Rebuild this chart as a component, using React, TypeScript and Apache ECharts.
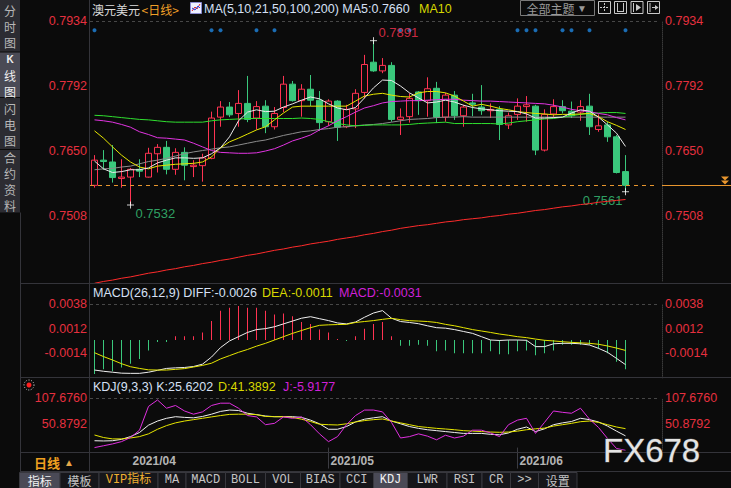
import React, { useEffect, useRef } from "react";
import * as echarts from "echarts";

// ---------------- data ----------------
const dates = [
  "2021/03/26","2021/03/29","2021/03/30","2021/03/31","2021/04/01","2021/04/02",
  "2021/04/05","2021/04/06","2021/04/07","2021/04/08","2021/04/09",
  "2021/04/12","2021/04/13","2021/04/14","2021/04/15","2021/04/16",
  "2021/04/19","2021/04/20","2021/04/21","2021/04/22","2021/04/23",
  "2021/04/26","2021/04/27","2021/04/28","2021/04/29","2021/04/30",
  "2021/05/03","2021/05/04","2021/05/05","2021/05/06","2021/05/07",
  "2021/05/10","2021/05/11","2021/05/12","2021/05/13","2021/05/14",
  "2021/05/17","2021/05/18","2021/05/19","2021/05/20","2021/05/21",
  "2021/05/24","2021/05/25","2021/05/26","2021/05/27","2021/05/28",
  "2021/05/31","2021/06/01","2021/06/02","2021/06/03","2021/06/04",
  "2021/06/07","2021/06/08","2021/06/09","2021/06/10","2021/06/11",
  "2021/06/14","2021/06/15","2021/06/16","2021/06/17",
];
const padCategories = ["pad-1", "pad-2", "pad-3"];

const openP = [
  0.7575,0.7630,0.7626,0.7590,0.7593,0.7610,0.7593,0.7644,0.7658,0.7610,
  0.7647,0.7616,0.7618,0.7634,0.7724,0.7746,0.7732,0.7754,0.7722,0.7748,
  0.7703,0.7745,0.7796,0.7760,0.7785,0.7761,0.7714,0.7759,0.7703,0.7742,
  0.7778,0.7844,0.7825,0.7837,0.7719,0.7725,0.7779,0.7760,0.7787,0.7724,
  0.7772,0.7727,0.7755,0.7746,0.7738,0.7741,0.7707,0.7730,0.7747,0.7748,
  0.7652,0.7731,0.7747,0.7737,0.7735,0.7748,0.7697,0.7707,0.7681,0.7605,
];
const closeP = [
  0.7630,0.7627,0.7592,0.7593,0.7610,0.7606,0.7645,0.7658,0.7610,0.7647,
  0.7619,0.7619,0.7635,0.7722,0.7746,0.7729,0.7754,0.7719,0.7747,0.7703,
  0.7732,0.7796,0.7760,0.7785,0.7761,0.7712,0.7759,0.7702,0.7741,0.7776,
  0.7839,0.7825,0.7837,0.7719,0.7724,0.7765,0.7760,0.7786,0.7724,0.7772,
  0.7727,0.7746,0.7752,0.7738,0.7741,0.7708,0.7727,0.7748,0.7751,0.7652,
  0.7730,0.7747,0.7738,0.7727,0.7747,0.7703,0.7705,0.7681,0.7603,0.7575,
];
const lowP = [
  0.7570,0.7609,0.7581,0.7570,0.7532,0.7593,0.7592,0.7603,0.7599,0.7598,
  0.7586,0.7593,0.7583,0.7632,0.7703,0.7724,0.7703,0.7713,0.7697,0.7689,
  0.7697,0.7735,0.7758,0.7725,0.7748,0.7694,0.7705,0.7672,0.7700,0.7700,
  0.7765,0.7823,0.7820,0.7714,0.7685,0.7712,0.7729,0.7725,0.7711,0.7714,
  0.7718,0.7703,0.7726,0.7729,0.7722,0.7674,0.7698,0.7718,0.7714,0.7641,
  0.7649,0.7722,0.7732,0.7722,0.7716,0.7685,0.7692,0.7670,0.7601,0.7561,
];
const highP = [
  0.7641,0.7652,0.7663,0.7632,0.7613,0.7632,0.7657,0.7665,0.7672,0.7656,
  0.7658,0.7630,0.7644,0.7736,0.7759,0.7757,0.7783,0.7814,0.7759,0.7761,
  0.7746,0.7814,0.7803,0.7796,0.7816,0.7781,0.7763,0.7761,0.7751,0.7785,
  0.7860,0.7891,0.7853,0.7844,0.7743,0.7776,0.7781,0.7811,0.7801,0.7777,
  0.7781,0.7751,0.7775,0.7794,0.7754,0.7748,0.7734,0.7765,0.7770,0.7751,
  0.7741,0.7763,0.7761,0.7758,0.7761,0.7775,0.7730,0.7714,0.7685,0.7641,
];

const ma5 = [
  0.7628,0.7611,0.7603,0.7605,0.7609,0.7609,0.7613,0.7624,0.7630,0.7635,
  0.7635,0.7634,0.7635,0.7644,0.7657,0.7681,0.7716,0.7735,0.7740,0.7736,
  0.7737,0.7746,0.7753,0.7761,0.7768,0.7764,0.7753,0.7744,0.7740,0.7745,
  0.7766,0.7788,0.7805,0.7804,0.7792,0.7777,0.7766,0.7755,0.7757,0.7761,
  0.7757,0.7750,0.7745,0.7742,0.7740,0.7738,0.7737,0.7736,0.7731,0.7722,
  0.7722,0.7723,0.7724,0.7733,0.7740,0.7737,0.7724,0.7707,0.7689,0.7660,
];
const ma10 = [
  0.7694,0.7678,0.7659,0.7641,0.7626,0.7615,0.7611,0.7617,0.7619,0.7621,
  0.7622,0.7623,0.7626,0.7637,0.7657,0.7670,0.7678,0.7687,0.7696,0.7703,
  0.7718,0.7733,0.7746,0.7748,0.7748,0.7748,0.7748,0.7748,0.7748,0.7759,
  0.7770,0.7774,0.7776,0.7772,0.7769,0.7768,0.7777,0.7780,0.7780,0.7777,
  0.7770,0.7759,0.7748,0.7752,0.7748,0.7743,0.7740,0.7736,0.7734,0.7732,
  0.7731,0.7729,0.7730,0.7730,0.7731,0.7732,0.7725,0.7714,0.7706,0.7697,
];
const ma21 = [
  0.7718,0.7716,0.7713,0.7708,0.7702,0.7692,0.7686,0.7679,0.7678,0.7676,
  0.7674,0.7667,0.7659,0.7651,0.7647,0.7646,0.7645,0.7645,0.7646,0.7650,
  0.7655,0.7663,0.7672,0.7678,0.7685,0.7696,0.7705,0.7716,0.7725,0.7735,
  0.7744,0.7749,0.7755,0.7758,0.7759,0.7760,0.7760,0.7761,0.7762,0.7763,
  0.7763,0.7761,0.7760,0.7759,0.7759,0.7758,0.7757,0.7756,0.7755,0.7754,
  0.7753,0.7750,0.7746,0.7741,0.7738,0.7736,0.7732,0.7729,0.7723,0.7718,
];
const ma50 = [
  0.7728,0.7727,0.7725,0.7723,0.7721,0.7719,0.7718,0.7716,0.7714,0.7713,
  0.7713,0.7713,0.7713,0.7716,0.7718,0.7719,0.7720,0.7721,0.7721,0.7721,
  0.7721,0.7721,0.7721,0.7722,0.7721,0.7719,0.7714,0.7710,0.7707,0.7705,
  0.7706,0.7707,0.7707,0.7707,0.7707,0.7708,0.7710,0.7711,0.7712,0.7713,
  0.7710,0.7710,0.7710,0.7710,0.7710,0.7709,0.7711,0.7714,0.7716,0.7718,
  0.7720,0.7721,0.7724,0.7727,0.7730,0.7732,0.7733,0.7734,0.7734,0.7732,
];
const ma100 = [
  0.7609,0.7611,0.7612,0.7615,0.7617,0.7622,0.7627,0.7630,0.7634,0.7639,
  0.7644,0.7648,0.7651,0.7654,0.7657,0.7659,0.7663,0.7667,0.7671,0.7674,
  0.7679,0.7684,0.7688,0.7692,0.7694,0.7697,0.7699,0.7702,0.7703,0.7705,
  0.7707,0.7708,0.7710,0.7713,0.7716,0.7719,0.7720,0.7721,0.7723,0.7724,
  0.7724,0.7725,0.7724,0.7724,0.7724,0.7724,0.7724,0.7724,0.7724,0.7724,
  0.7724,0.7724,0.7724,0.7724,0.7724,0.7724,0.7724,0.7724,0.7724,0.7724,
];
const ma200 = [
  0.7361,0.7365,0.7368,0.7372,0.7375,0.7379,0.7383,0.7386,0.7390,0.7393,
  0.7397,0.7400,0.7404,0.7407,0.7411,0.7414,0.7418,0.7422,0.7425,0.7429,
  0.7433,0.7436,0.7440,0.7443,0.7447,0.7450,0.7453,0.7457,0.7460,0.7463,
  0.7467,0.7470,0.7474,0.7477,0.7481,0.7484,0.7487,0.7489,0.7492,0.7495,
  0.7497,0.7500,0.7502,0.7504,0.7507,0.7509,0.7512,0.7514,0.7517,0.7520,
  0.7522,0.7525,0.7528,0.7530,0.7533,0.7535,0.7538,0.7540,0.7542,0.7544,
];

const macdDiff = [
  -0.00317,-0.00330,-0.00340,-0.00350,-0.00352,-0.00352,-0.00340,-0.00320,-0.00300,-0.00294,
  -0.00290,-0.00280,-0.00255,-0.00180,-0.00080,-0.00010,0.00035,0.00080,0.00110,0.00120,
  0.00140,0.00170,0.00200,0.00230,0.00246,0.00225,0.00205,0.00180,0.00170,0.00190,
  0.00240,0.00285,0.00310,0.00230,0.00195,0.00185,0.00172,0.00150,0.00130,0.00125,
  0.00110,0.00090,0.00070,0.00035,0.00000,-0.00005,0.00000,0.00000,-0.00003,-0.00070,
  -0.00070,-0.00040,-0.00035,-0.00035,-0.00040,-0.00053,-0.00088,-0.00130,-0.00194,-0.0026,
];
const macdDea = [
  -0.00134,-0.00175,-0.00211,-0.00250,-0.00282,-0.00300,-0.00315,-0.00317,-0.00317,-0.00310,
  -0.00302,-0.00285,-0.00268,-0.00245,-0.00200,-0.00165,-0.00130,-0.00100,-0.00065,-0.00035,
  0.00000,0.00035,0.00070,0.00100,0.00130,0.00155,0.00160,0.00163,0.00165,0.00185,
  0.00195,0.00205,0.00218,0.00229,0.00215,0.00204,0.00200,0.00195,0.00185,0.00165,
  0.00150,0.00130,0.00110,0.00095,0.00080,0.00063,0.00050,0.00035,0.00025,0.00010,
  -0.00003,-0.00010,-0.00018,-0.00025,-0.00030,-0.00035,-0.00045,-0.00063,-0.00085,-0.0011,
];
const macdHist = [
  -0.0036,-0.0031,-0.0033,-0.0029,-0.0025,-0.0020,-0.0011,-0.0002,-0.0002,0.0004,
  0.0004,0.0004,0.0008,0.0020,0.0031,0.0034,0.0036,0.0034,0.0034,0.0031,
  0.0027,0.0028,0.0025,0.0019,0.0017,0.0011,0.0008,0.0001,-0.0001,0.0004,
  0.0012,0.0017,0.0019,0.0004,-0.0006,-0.0006,-0.0005,-0.0006,-0.0012,-0.0011,
  -0.0014,-0.0014,-0.0014,-0.0014,-0.0012,-0.0015,-0.0015,-0.0012,-0.0011,-0.0016,
  -0.0014,-0.0011,-0.0005,-0.0005,-0.0005,-0.0005,-0.0009,-0.0014,-0.0023,-0.0031,
];

const kdjK = [
  15,14.5,15,18,24,33,49,58,64,67.5,
  66,65,68,73,79,82,81,75,72,69,
  67.5,67.5,67.5,66,60,52,40,40,46,56,
  62,65,67.5,58,52,46,42,39,37,35,
  33,31,31,31,29,28,32,40,45,35,
  41,50,54,57,64,61,56,47,36,25.6202,
];
const kdjD = [
  27.5,22,19,19,21,24,30,40,48,54,
  58,61,64,67,70,72.5,73,73,72,68,
  67.5,67.5,66,62,57,51,50,49.4,52,56,
  59,61,62.5,58,54,50,46,44,42,40.6,
  39,37,36,35,34,33.4,34,36,39,41,
  42.5,47,50,53,56.6,58,55,50,45,41.3892,
];
const kdjJ = [
  0,4,8,13,22,38,90,104,86,92,
  80,73,78,92,97,97,86,70,67,50,
  53,67,64,67,50,30,13,24,50,70,
  82,82,78,55,21,24,30,25,17,27,
  21,25,38,38,32,24,50,60,64,31,
  55,80,77,75,86,62,44,20,-2,-5.9177,
];

const signalDays = [0, 13, 14, 18, 20, 34, 35, 47, 48, 49, 52, 53, 55, 59];
const signalLevel = 0.7914;
const extremes = [
  { idx: 31, price: 0.7891, kind: "high" },
  { idx: 4, price: 0.7532, kind: "low" },
  { idx: 59, price: 0.7561, kind: "low" },
];

// axis tick values
const priceTicks = { min: 0.7366, max: 0.7934, step: 0.0142 };
const macdTicks = { min: -0.0040, max: 0.0038, step: 0.0026 };
const kdjTicks = { min: -5.9176, max: 107.676, step: 56.7968 };

const tabLabels = ["指标","模板","VIP指标","MA","MACD","BOLL","VOL","BIAS","CCI","KDJ","LWR","RSI","CR",">>","设置"];

// ---------------- styling ----------------
const BG = "#0b0b0b";
const RED = "#ff3352";
const GREEN = "#3ac87c";
const AXIS_RED = "#e6303f";
const LINE = "#34343a";
const LAT = '"Liberation Sans", "DejaVu Sans", sans-serif';
const CJK = '"Noto Sans CJK SC", sans-serif';
const MONO = '"Liberation Mono", "Noto Sans CJK SC", monospace';

const GRID_LEFT = 90;
const GRID_W = 567;

function yPair(gridIndex: number, t: any) {
  const base: any = {
    type: "value",
    gridIndex,
    min: t.min,
    max: t.max,
    interval: t.step,
    splitLine: { show: false },
    axisTick: { show: false },
    axisLine: { show: false },
    axisLabel: {
      color: AXIS_RED,
      fontFamily: "Liberation Sans",
      fontSize: 12.5,
      margin: 3,
      showMinLabel: false,
      formatter: (v: number) => v.toFixed(4),
    },
  };
  return [
    { ...base, position: "left" },
    {
      ...base,
      position: "right",
      offset: 5,
      axisLine: { show: true, lineStyle: { color: "#3a3a3a", type: "dotted" } },
    },
  ];
}

const refLine = (value: number, color: string, dash: number[]) => ({
  silent: true,
  symbol: "none",
  precision: 6,
  label: { show: false },
  data: [{ yAxis: value, lineStyle: { color, type: dash, width: 1 } }],
});

function buildOption() {
  const cats = [...dates, ...padCategories];
  const monthStarts: number[] = [];
  dates.forEach((d, i) => {
    if (i > 0 && d.slice(5, 7) !== dates[i - 1].slice(5, 7)) monthStarts.push(i);
  });
  const tickIdx = monthStarts.slice(1);

  const xAxes = [0, 1, 2].map((g) => ({
    type: "category",
    gridIndex: g,
    data: cats,
    boundaryGap: true,
    axisLine: { show: false },
    axisTick: { show: false },
    axisLabel: { show: false },
    splitLine: { show: false },
  })) as any[];
  xAxes[2] = {
    ...xAxes[2],
    axisTick: {
      show: true,
      alignWithLabel: true,
      interval: (i: number) => tickIdx.includes(i),
      length: 21,
      lineStyle: { color: "#3c3c42" },
    },
    axisLabel: {
      show: true,
      interval: (i: number) => monthStarts.includes(i),
      formatter: (v: string) => v.slice(0, 7),
      color: "#b4b4b4",
      fontFamily: "Liberation Sans",
      fontWeight: "bold",
      fontSize: 12,
      align: "left",
      margin: 5,
      padding: [0, 0, 0, 2],
    },
  };

  const maDefs: [number[], string][] = [
    [ma200, "#ff2b2b"],
    [ma100, "#8c8c8c"],
    [ma50, "#2fe02f"],
    [ma21, "#e234e2"],
    [ma10, "#e6e600"],
    [ma5, "#eaeaea"],
  ];

  const series: any[] = [
    // reference lines of the price panel (top dashed line and current price)
    {
      type: "line",
      xAxisIndex: 0,
      yAxisIndex: 0,
      data: [],
      symbol: "none",
      silent: true,
      markLine: {
        silent: true,
        symbol: "none",
        precision: 6,
        label: { show: false },
        data: [
          { yAxis: priceTicks.max, lineStyle: { color: "#474747", type: [3, 3], width: 1 } },
          { yAxis: closeP[closeP.length - 1], lineStyle: { color: "#e8962e", type: [4, 4], width: 1 } },
        ],
      },
    },
    {
      type: "candlestick",
      xAxisIndex: 0,
      yAxisIndex: 0,
      barWidth: 7,
      data: dates.map((_, i) => [openP[i], closeP[i], lowP[i], highP[i]]),
      itemStyle: { color: BG, color0: GREEN, borderColor: RED, borderColor0: GREEN, borderWidth: 1 },
    },
    ...maDefs.map(([d, c]) => ({
      type: "line",
      xAxisIndex: 0,
      yAxisIndex: 0,
      data: d,
      symbol: "none",
      silent: true,
      clip: false,
      lineStyle: { color: c, width: 1 },
    })),
    {
      type: "scatter",
      xAxisIndex: 0,
      yAxisIndex: 0,
      data: signalDays.map((i) => [i, signalLevel]),
      symbolSize: 4,
      itemStyle: { color: "#1f86e0" },
      silent: true,
    },
    {
      type: "scatter",
      xAxisIndex: 0,
      yAxisIndex: 0,
      symbol: "path://M0,5L10,5M5,0L5,10",
      symbolSize: 7,
      silent: true,
      itemStyle: { color: "none", borderColor: "#ffffff", borderWidth: 1 },
      data: extremes.map((e) => {
        const right = e.idx > 50;
        return {
          value: [e.idx, e.price],
          label: {
            show: true,
            position: "inside",
            formatter: e.price.toFixed(4),
            color: e.kind === "high" ? RED : GREEN,
            fontFamily: "Liberation Sans",
            fontSize: 13,
            align: right ? "right" : "left",
            verticalAlign: "middle",
            offset: e.kind === "high" ? [5, -8] : right ? [-3, 9] : [5, 8],
          },
        };
      }),
    },
    {
      type: "bar",
      xAxisIndex: 1,
      yAxisIndex: 2,
      barWidth: 1,
      silent: true,
      data: macdHist.map((v) => ({ value: v, itemStyle: { color: v >= 0 ? RED : GREEN } })),
    },
    {
      type: "line", xAxisIndex: 1, yAxisIndex: 2, data: macdDiff, symbol: "none", silent: true,
      lineStyle: { color: "#f0f0f0", width: 1 },
      markLine: refLine(macdTicks.max, "#474747", [3, 3]),
    },
    { type: "line", xAxisIndex: 1, yAxisIndex: 2, data: macdDea, symbol: "none", silent: true, lineStyle: { color: "#e6e600", width: 1 } },
    {
      type: "line", xAxisIndex: 2, yAxisIndex: 4, data: kdjK, symbol: "none", silent: true,
      lineStyle: { color: "#f0f0f0", width: 1 },
      markLine: refLine(kdjTicks.max, "#474747", [3, 3]),
    },
    { type: "line", xAxisIndex: 2, yAxisIndex: 4, data: kdjD, symbol: "none", silent: true, lineStyle: { color: "#e6e600", width: 1 } },
    { type: "line", xAxisIndex: 2, yAxisIndex: 4, data: kdjJ, symbol: "none", silent: true, lineStyle: { color: "#e030e0", width: 1 } },
  ];

  return {
    backgroundColor: BG,
    animation: false,
    grid: [
      { left: GRID_LEFT, top: 21, width: GRID_W, height: 260 },
      { left: GRID_LEFT, top: 304, width: GRID_W, height: 73.9 },
      { left: GRID_LEFT, top: 398.3, width: GRID_W, height: 52 },
    ],
    xAxis: xAxes,
    yAxis: [...yPair(0, priceTicks), ...yPair(1, macdTicks), ...yPair(2, kdjTicks)],
    series,
  };
}

// ---------------- chrome (graphic) ----------------
const txt = (x: number, y: number, text: string, fill: string, font: string, align = "left", extra: any = {}) => ({
  type: "text",
  x,
  y,
  z: 100,
  silent: true,
  style: { text, fill, font, align, textAlign: align, verticalAlign: "middle", textVerticalAlign: "middle", ...extra },
});
const rect = (x: number, y: number, w: number, h: number, fill: string, stroke?: string) => ({
  type: "rect",
  z: 90,
  silent: true,
  shape: { x, y, width: w, height: h },
  style: { fill, stroke: stroke || null, lineWidth: 1 },
});
const seg = (x1: number, y1: number, x2: number, y2: number, stroke: string, dash?: number[]) => ({
  type: "line",
  z: 95,
  silent: true,
  shape: { x1, y1, x2, y2 },
  style: { stroke, lineWidth: 1, lineDash: dash || null },
});

function buildGraphic(yClose: number) {
  const els: any[] = [];
  const last = dates.length - 1;

  // sidebar
  const sections = [
    { chars: ["分", "时", "图"], y0: 0, y1: 51.5, ys: [10, 26, 42], sel: false },
    { chars: ["K", "线", "图"], y0: 52.5, y1: 97, ys: [59, 75, 91], sel: true },
    { chars: ["闪", "电", "图"], y0: 98, y1: 149, ys: [108.5, 124.5, 140.5], sel: false },
    { chars: ["合", "约", "资", "料"], y0: 150, y1: 212.5, ys: [157.5, 173.5, 189.5, 205.5], sel: false },
  ];
  sections.forEach((s) => {
    els.push(rect(0, s.y0, 20, s.y1 - s.y0, s.sel ? "#4a4a55" : "#2c2c32"));
    s.chars.forEach((c, i) =>
      els.push(
        txt(10, s.ys[i], c, s.sel ? "#f0f0f0" : "#b8b8b8", c === "K" ? `bold 10px ${LAT}` : `12px ${CJK}`, "center", {
          lineHeight: 12,
        })
      )
    );
  });

  // frame lines
  els.push(seg(20.5, 212.5, 20.5, 472, LINE));
  els.push(seg(89.5, 0, 89.5, 472, LINE));
  [283.5, 377.5, 452.5, 471.5].forEach((y) => els.push(seg(20, y, 731, y, LINE)));

  // header
  els.push(txt(92, 9, "澳元美元", "#dcdcdc", `12px ${CJK}`));
  els.push(txt(141.5, 9, "<日线>", "#f0a028", `12px ${CJK}`));
  els.push(rect(190.5, 2.5, 11, 11, "#eef0ff", "#8a8ad0"));
  els.push({ type: "polyline", z: 96, silent: true, shape: { points: [[192, 11], [195, 7], [197, 9], [200, 4]] }, style: { stroke: "#e02020", fill: null, lineWidth: 1 } });
  els.push({ type: "polyline", z: 96, silent: true, shape: { points: [[192, 8], [195, 10], [198, 6], [200, 8]] }, style: { stroke: "#2040e0", fill: null, lineWidth: 1 } });
  els.push(txt(204, 9, `MA(5,10,21,50,100,200) MA5:${ma5[last].toFixed(4)}`, "#d6e0f5", `12.5px ${LAT}`));
  els.push(txt(419, 9, "MA10", "#d8d800", `12.5px ${LAT}`));

  // top-right buttons
  els.push(rect(520.5, 0.5, 74, 15, "#0b0b0b", "#7a7a7a"));
  els.push(txt(526.5, 8, "全部主题", "#9a9a9a", `12px ${CJK}`, "left", { lineHeight: 13 }));
  els.push(txt(577, 8, "▼", "#9a9a9a", `10px ${LAT}`));
  [598.5, 614.5, 631, 647.5].forEach((x) => els.push(rect(x, 1.5, 12, 12, "#0b0b0b", "#c8c8c8")));
  els.push(seg(600, 7.5, 609, 7.5, "#c8c8c8", [2, 1]));
  els.push(seg(604.5, 3, 604.5, 12, "#c8c8c8", [2, 1]));
  els.push(seg(617.5, 3, 617.5, 12, "#c8c8c8"));
  els.push(seg(623.5, 3, 623.5, 12, "#c8c8c8"));
  els.push(seg(617.5, 11.5, 623.5, 11.5, "#c8c8c8"));
  els.push(seg(633.5, 3, 633.5, 12, "#c8c8c8"));
  els.push({ type: "polygon", z: 96, silent: true, shape: { points: [[636, 4], [641, 7.5], [636, 11]] }, style: { fill: "#c8c8c8" } });
  els.push(seg(650, 3, 650, 12, "#c8c8c8"));
  els.push(seg(652, 7.5, 658, 7.5, "#c8c8c8"));
  els.push({ type: "polygon", z: 96, silent: true, shape: { points: [[655, 5], [658.5, 7.5], [655, 10]] }, style: { fill: "#c8c8c8" } });

  // current price marker on the right
  const yc = Math.round(yClose) + 0.5;
  els.push(seg(662, yc, 731, yc, "#e8962e"));
  els.push({ type: "polygon", z: 96, silent: true, shape: { points: [[721, yc - 9], [729, yc - 9], [725, yc - 5]] }, style: { fill: "#e8962e" } });
  els.push({ type: "polygon", z: 96, silent: true, shape: { points: [[721, yc - 5], [729, yc - 5], [725, yc - 1]] }, style: { fill: "#e8962e" } });

  // MACD header
  els.push(txt(93, 293, `MACD(26,12,9) DIFF:${macdDiff[last].toFixed(4)}`, "#d6e0f5", `12.5px ${LAT}`));
  els.push(txt(262, 293, `DEA:${macdDea[last].toFixed(4)}`, "#d8d800", `12.5px ${LAT}`));
  els.push(txt(339, 293, `MACD:${macdHist[last].toFixed(4)}`, "#d020d8", `12.5px ${LAT}`));

  // KDJ header
  els.push({ type: "circle", z: 96, silent: true, shape: { cx: 29, cy: 385, r: 5 }, style: { fill: null, stroke: "#cfcfcf", lineWidth: 1, lineDash: [1, 1.5] } });
  els.push({ type: "circle", z: 97, silent: true, shape: { cx: 29, cy: 385, r: 2.5 }, style: { fill: "#ff2020" } });
  els.push(txt(93, 387, `KDJ(9,3,3) K:${kdjK[last].toFixed(4)}`, "#d6e0f5", `12.5px ${LAT}`));
  els.push(txt(218, 387, `D:${kdjD[last].toFixed(4)}`, "#d8d800", `12.5px ${LAT}`));
  els.push(txt(283, 387, `J:${kdjJ[last].toFixed(4)}`, "#d020d8", `12.5px ${LAT}`));

  // date row left
  els.push(txt(34, 462, "日线", "#f0a020", `bold 13px ${CJK}`, "left", { lineHeight: 15 }));
  els.push(txt(64, 462, "▲", "#e8a848", `10px ${LAT}`));

  // watermark
  els.push(txt(603, 450, "FX678", "#e4e4e4", `33px ${LAT}`, "left", { stroke: "#4a4a4a", lineWidth: 1 }));

  // toolbar
  const edges = [19.5, 60, 99, 158, 186, 225.5, 265.5, 300.5, 340, 373.5, 407.5, 447, 482, 510.5, 538.5, 577];
  tabLabels.forEach((lab, i) => {
    const x0 = edges[i];
    const x1 = edges[i + 1];
    const sel = lab === "指标" || lab === "KDJ";
    els.push(rect(x0, 472.5, x1 - x0, 16, sel ? "#4a4a56" : "#16161a", "#38383e"));
    const isCjk = /[\u4e00-\u9fff]/.test(lab) && !lab.startsWith("VIP");
    const color = sel ? "#f2f2f2" : lab.startsWith("VIP") ? "#f0b030" : "#c4c4c4";
    els.push(
      txt((x0 + x1) / 2, 480, lab, color, isCjk ? `12px ${CJK}` : `12px ${MONO}`, "center", { lineHeight: 13 })
    );
  });

  return els;
}

export default function App() {
  const ref = useRef<HTMLDivElement>(null);
  useEffect(() => {
    document.body.style.margin = "0";
    document.body.style.background = BG;
    const chart = echarts.init(ref.current as HTMLDivElement, null, { renderer: "svg" });
    chart.setOption(buildOption() as any);
    const yClose = chart.convertToPixel({ yAxisIndex: 0 } as any, closeP[closeP.length - 1]) as number;
    chart.setOption({ graphic: buildGraphic(yClose) } as any);
    return () => chart.dispose();
  }, []);
  return <div ref={ref} style={{ width: 731, height: 488, background: BG }} />;
}
